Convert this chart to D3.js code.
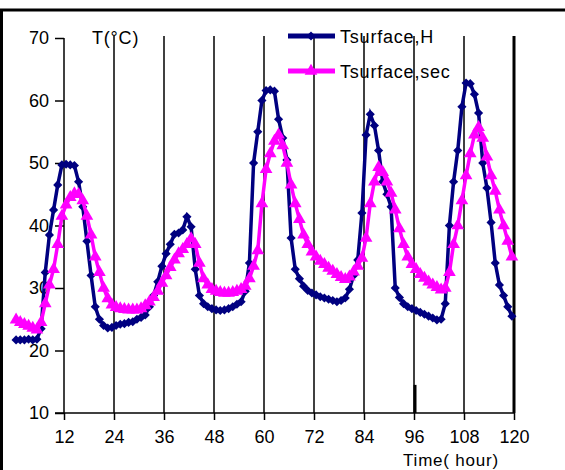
<!DOCTYPE html>
<html>
<head>
<meta charset="utf-8">
<script src="https://cdn.jsdelivr.net/npm/d3@7"></script>
<style>
  body { margin: 0; background: #fff; }
  text { font-family: "Liberation Sans", Arial, sans-serif; fill: #000; }
</style>
</head>
<body>
<div id="chart"></div>
<script>
// hourly readings, first one at t = 0.5 h
const hours = d3.range(0.5, 120, 1);

const tSurfaceH = [
  21.7, 21.7, 21.7, 21.8, 21.7, 21.8, 23.5, 32.5, 38.5, 42.5,
  46.5, 49.7, 49.8, 49.7, 49.6, 47.0, 43.0, 37.5, 32.0, 27.0,
  25.0, 24.0, 23.6, 23.7, 24.0, 24.2, 24.3, 24.5, 24.6, 25.0,
  25.3, 25.7, 27.0, 28.8, 31.0, 33.5, 35.5, 37.0, 38.6, 38.8,
  39.3, 41.4, 39.8, 33.0, 28.8, 27.5, 27.0, 26.7, 26.5, 26.4,
  26.5, 26.7, 27.0, 27.4, 27.8, 29.5, 34.0, 50.0, 55.0, 60.0,
  61.6, 61.7, 61.5, 57.0, 54.0, 50.5, 38.0, 33.0, 31.5, 30.3,
  29.6, 29.2, 28.9, 28.6, 28.4, 28.2, 28.0, 27.8, 28.0, 28.4,
  29.8, 32.0, 34.5, 42.0, 54.5, 57.8, 56.0, 52.0, 47.0, 45.0,
  43.0, 30.0, 28.5, 27.5, 27.0, 26.7, 26.4, 26.1, 25.8, 25.5,
  25.2, 24.9, 25.0, 27.5, 40.0, 47.0, 52.0, 59.0, 62.8, 62.7,
  61.0, 58.0, 50.0, 46.0, 40.5, 34.0, 30.5, 28.8, 27.0, 25.5
];

const tSurfaceSec = [
  24.9, 24.5, 24.2, 23.9, 23.6, 23.3, 24.5, 27.5, 30.5, 33.0,
  37.0, 41.5, 43.3, 44.5, 45.1, 45.0, 44.0, 41.5, 38.5, 35.0,
  32.5, 30.0, 28.3, 27.3, 26.9, 26.7, 26.6, 26.5, 26.5, 26.5,
  26.7, 27.2, 27.8, 28.5, 29.5, 30.8, 32.0, 33.3, 34.5, 35.5,
  36.2, 37.0, 37.9, 37.0, 34.0, 31.5, 30.5, 29.8, 29.5, 29.3,
  29.2, 29.2, 29.3, 29.5, 29.8, 30.3, 31.5, 33.5, 36.0, 43.5,
  49.0, 51.5, 53.5, 54.5, 52.8, 50.0, 46.5, 43.5, 41.0, 38.5,
  37.0, 35.8, 35.0, 34.3, 33.8, 33.2, 32.7, 32.2, 31.7, 31.4,
  31.8, 32.6, 33.5, 34.8, 38.0, 43.5, 47.0, 49.3, 48.5, 47.0,
  45.2, 42.5, 39.5, 37.0, 35.0, 33.8, 33.0, 32.2, 31.6, 31.0,
  30.5, 30.1, 29.7, 30.0, 32.5, 37.0, 40.0, 44.0, 48.0, 51.5,
  54.5, 55.7, 54.0, 51.0, 48.0, 45.5, 42.5, 40.0, 37.5, 35.0
];

const xTicks = [12, 24, 36, 48, 60, 72, 84, 96, 108, 120];
const yTicks = [10, 20, 30, 40, 50, 60, 70];
const seriesNames = ["Tsurface,H", "Tsurface,sec"];
const seriesColors = ["#000080", "#ff00ff"];

const width = 565, height = 470;

const svg = d3.select("#chart").append("svg")
    .attr("width", width)
    .attr("height", height);

// frame round the picture (only top and left show)
svg.append("line").attr("x1", 0).attr("x2", width).attr("y1", 10).attr("y2", 10)
    .attr("stroke", "#000").attr("stroke-width", 3);
svg.append("line").attr("x1", 1.5).attr("x2", 1.5).attr("y1", 10).attr("y2", height)
    .attr("stroke", "#000").attr("stroke-width", 3);

const x = d3.scaleLinear().domain([0, 120]).range([14, 514]);
const y = d3.scaleLinear().domain([10, 70]).range([413, 38]);

// vertical grid lines
svg.append("g")
  .selectAll("line")
  .data(xTicks.slice(1))
  .join("line")
    .attr("x1", d => x(d)).attr("x2", d => x(d))
    .attr("y1", y(70) - 2).attr("y2", y(10))
    .attr("stroke", "#000")
    .attr("stroke-width", d => d === 120 ? 3 : 1.5);

// short heavy mark standing on the axis at 96
svg.append("line")
    .attr("x1", x(96) + 1).attr("x2", x(96) + 1)
    .attr("y1", y(14.5)).attr("y2", y(10))
    .attr("stroke", "#000").attr("stroke-width", 3);

// x axis (crosses at 12 h)
const xAxis = svg.append("g")
    .attr("transform", `translate(0,${y(10)})`)
    .call(d3.axisBottom(x).tickValues(xTicks).tickSize(7).tickPadding(10));
xAxis.select(".domain").attr("d", `M${x(12) - 9},0H${x(120)}`).attr("stroke-width", 1.5);
xAxis.selectAll(".tick line").attr("stroke-width", 1.5);
xAxis.selectAll("text").attr("font-size", 18).attr("font-family", "Liberation Sans, Arial, sans-serif");

// y axis drawn at t = 12
const yAxis = svg.append("g")
    .attr("transform", `translate(${x(12)},0)`)
    .call(d3.axisLeft(y).tickValues(yTicks).tickSize(9).tickPadding(6));
yAxis.select(".domain").attr("d", `M0,${y(70)}V${y(10)}`).attr("stroke-width", 1.5);
yAxis.selectAll(".tick line").attr("stroke-width", 1.5);
yAxis.selectAll("text").attr("font-size", 18).attr("font-family", "Liberation Sans, Arial, sans-serif");

svg.append("text")
    .attr("x", 92).attr("y", 44)
    .attr("font-size", 18)
    .attr("letter-spacing", 0.8)
    .text("T(°C)");

svg.append("text")
    .attr("x", 403).attr("y", 466)
    .attr("font-size", 17)
    .attr("letter-spacing", 0.8)
    .text("Time( hour)");

const line = d3.line()
    .x((d, i) => x(hours[i]))
    .y(d => y(d));

const diamond = d3.symbol().type(d3.symbolSquare).size(42);
const triangle = d3.symbol().type(d3.symbolTriangle).size(70);

function drawSeries(values, color, shape, rotate) {
  svg.append("path")
      .datum(values)
      .attr("fill", "none")
      .attr("stroke", color)
      .attr("stroke-width", 3.5)
      .attr("d", line);
  svg.append("g")
    .selectAll("path")
    .data(values)
    .join("path")
      .attr("transform", (d, i) => `translate(${x(hours[i])},${y(d)}) rotate(${rotate})`)
      .attr("d", shape)
      .attr("fill", color);
}

drawSeries(tSurfaceH, seriesColors[0], diamond, 45);
drawSeries(tSurfaceSec, seriesColors[1], triangle, 0);

// legend, no box
const legend = svg.append("g");
[[diamond, 45], [triangle, 0]].forEach(([shape, rot], i) => {
  const ly = 36 + i * 35;
  legend.append("line")
      .attr("x1", 288).attr("x2", 335)
      .attr("y1", ly).attr("y2", ly)
      .attr("stroke", seriesColors[i]).attr("stroke-width", 5);
  legend.append("path")
      .attr("transform", `translate(311,${ly}) rotate(${rot})`)
      .attr("d", shape)
      .attr("fill", seriesColors[i]);
  legend.append("text")
      .attr("x", 340).attr("y", ly + 7)
      .attr("font-size", 18)
      .attr("letter-spacing", 0.8)
      .text(seriesNames[i]);
});
</script>
</body>
</html>
